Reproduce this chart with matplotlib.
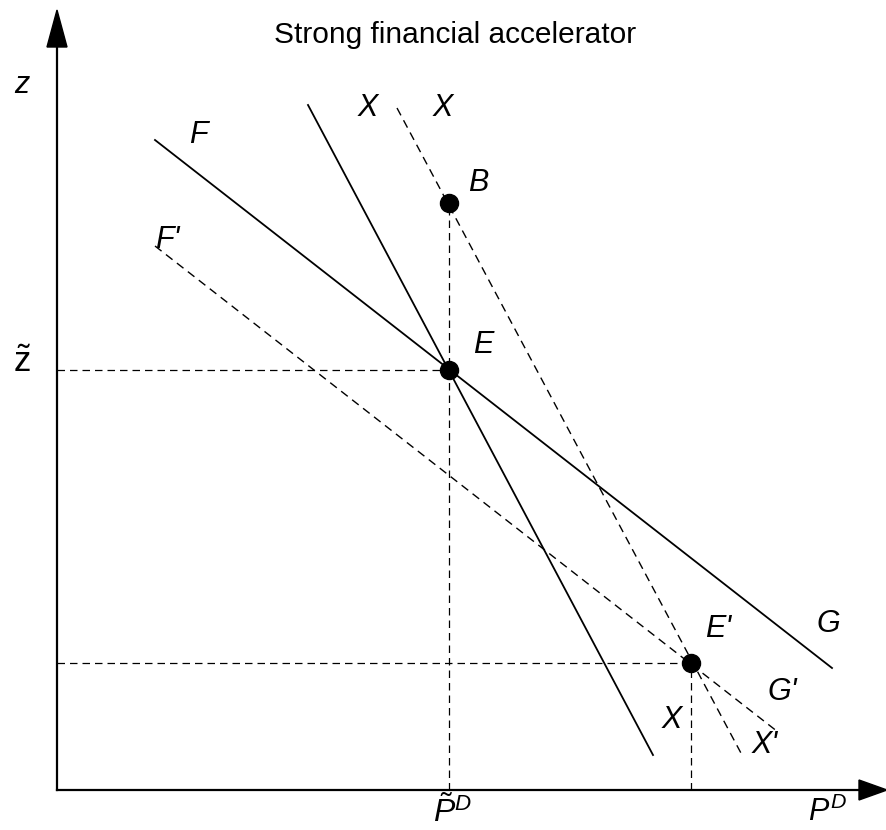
import numpy as np
import matplotlib.pyplot as plt

plt.rcParams['font.family'] = ['Liberation Sans', 'DejaVu Sans']
plt.rcParams['mathtext.fontset'] = 'custom'
plt.rcParams['mathtext.rm'] = 'Liberation Sans'
plt.rcParams['mathtext.it'] = 'Liberation Sans:italic'

# equilibrium points (P^D, z)
E = (392, 420)
B = (392, 587)
E2 = (634, 127)

# schedules: end points of each line
ff_p = [98, 775]
ff_z = [650, 122]
xx_p = [251, 596]
xx_z = [685, 35]
ff2_p = [98, 721]
ff2_z = [544, 58]
xx2_p = [340, 685]
xx2_z = [682, 35]

p_max = 830
z_max = 780

fig = plt.figure(figsize=(8.87, 8.3), dpi=100)
ax = fig.add_axes([0, 0, 1, 1])
ax.set_xlim(-57, 830)
ax.set_ylim(-40, 790)
ax.axis('off')

# axes with arrow heads
ax.plot([0, p_max - 27], [0, 0], color='black', lw=1.6)
ax.plot([0, 0], [0, z_max - 37], color='black', lw=1.6)
ax.fill([p_max - 28, p_max, p_max - 28], [-10, 0, 10], color='black')
ax.fill([-10, 0, 10], [z_max - 37, z_max, z_max - 37], color='black')

dash = (0, (6, 4))
ax.plot(ff_p, ff_z, color='black', lw=1.3)
ax.plot(xx_p, xx_z, color='black', lw=1.3)
ax.plot(ff2_p, ff2_z, color='black', lw=1.0, ls=dash)
ax.plot(xx2_p, xx2_z, color='black', lw=1.0, ls=dash)

# guide lines to the axes
ax.plot([0, E[0]], [E[1], E[1]], color='black', lw=0.9, ls=dash)
ax.plot([B[0], B[0]], [0, B[1]], color='black', lw=0.9, ls=dash)
ax.plot([0, E2[0]], [E2[1], E2[1]], color='black', lw=0.9, ls=dash)
ax.plot([E2[0], E2[0]], [0, E2[1]], color='black', lw=0.9, ls=dash)

for pt in [E, B, E2]:
    ax.plot(pt[0], pt[1], 'o', color='black', ms=13)

fs = 22
lab = dict(fontsize=fs, style='italic', ha='center', va='center')
ax.text(398, 755, 'Strong financial accelerator', fontsize=fs - 0.5, ha='center', va='center')
ax.text(-35, 705, 'z', **lab)
ax.text(-35, 427, r'$\tilde{\mathrm{z}}$', fontsize=fs + 3, ha='center', va='center')
ax.text(141, 655, 'F', **lab)
ax.text(110, 550, "F'", **lab)
ax.text(311, 682, 'X', **lab)
ax.text(386, 682, 'X', **lab)
ax.text(421, 607, 'B', **lab)
ax.text(426, 445, 'E', **lab)
ax.text(661, 161, "E'", **lab)
ax.text(771, 166, 'G', **lab)
ax.text(725, 98, "G'", **lab)
ax.text(615, 70, 'X', **lab)
ax.text(708, 45, "X'", **lab)
ax.text(396, -22, r'$\tilde{P}^{D}$', fontsize=fs + 1, ha='center', va='center')
ax.text(771, -22, r'$P^{D}$', fontsize=fs, ha='center', va='center')

fig.savefig('out.png', dpi=100)
